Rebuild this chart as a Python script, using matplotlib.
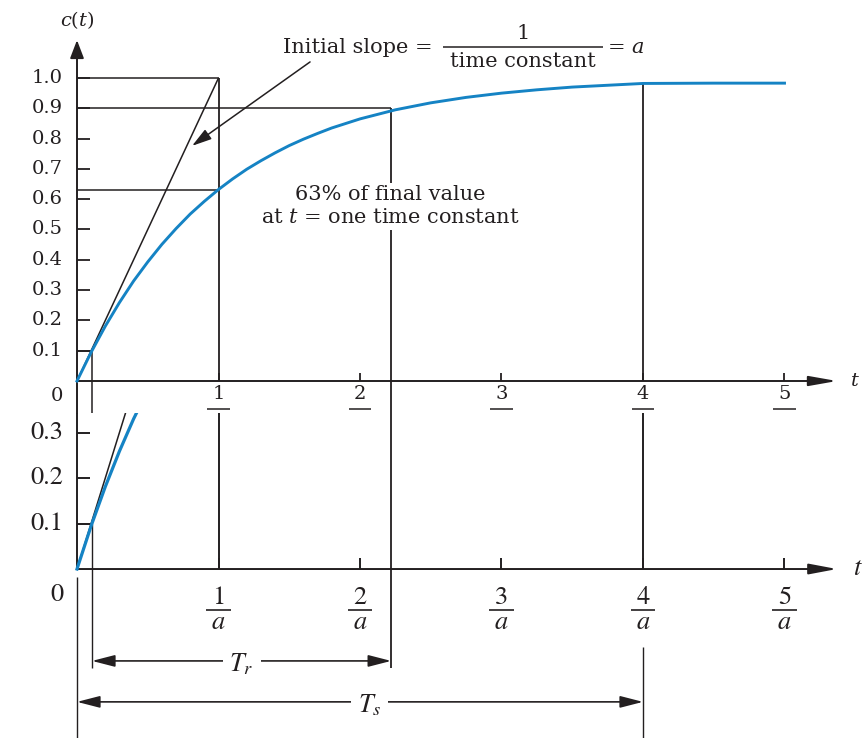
import matplotlib.pyplot as plt

# step response c(t) = 1 - exp(-a t), read at a = 1
t_vals = [0, 0.1, 0.2, 0.3, 0.4, 0.5, 0.6, 0.7, 0.8, 0.9, 1.0, 1.1, 1.2, 1.3, 1.4,
          1.5, 1.6, 1.7, 1.8, 1.9, 2.0, 2.25, 2.5, 2.75, 3.0, 3.25, 3.5, 3.75,
          4.0, 4.5, 5.0]
c_vals = [0, 0.095, 0.181, 0.259, 0.330, 0.393, 0.451, 0.503, 0.551, 0.593, 0.632,
          0.667, 0.699, 0.727, 0.753, 0.777, 0.798, 0.817, 0.835, 0.850, 0.865,
          0.895, 0.918, 0.936, 0.950, 0.961, 0.970, 0.976, 0.982, 0.983, 0.983]

slope_t = [0, 1]
slope_c = [0, 1]

t_10 = 0.106     # 10% point
t_90 = 2.22      # 90% point
t_tc = 1.0       # one time constant
c_tc = 0.63
t_s = 4.0        # settling time
c_s = 0.982

x_ticks = [1, 2, 3, 4, 5]
y_ticks_top = [0.1, 0.2, 0.3, 0.4, 0.5, 0.6, 0.7, 0.8, 0.9, 1.0]
y_ticks_bot = [0.1, 0.2, 0.3]

INK = '#231f20'
BLUE = '#1583c4'

fig = plt.figure(figsize=(8.66, 7.38), dpi=100)
ax_top = fig.add_axes([0, 325 / 738, 1, 413 / 738])
ax_bot = fig.add_axes([0, 0, 1, 325 / 738])
for ax in (ax_top, ax_bot):
    ax.set_axis_off()
    ax.set_xlim(-0.5442, 5.576)
ax_top.set_ylim(-0.1056, 1.2574)
ax_bot.set_ylim(-0.3714, 0.3429)

TOPF = dict(family='DejaVu Serif', color=INK, math_fontfamily='dejavuserif')
BOTF = dict(family='STIXGeneral', color=INK, math_fontfamily='stix')


def seg(ax, xs, ys, lw=1.1, **kw):
    ax.plot(xs, ys, color=INK, lw=lw, solid_capstyle='butt', **kw)


def arrow(ax, start, end, style, lw=1.3, ms=10):
    ax.annotate('', xy=end, xytext=start,
                arrowprops=dict(arrowstyle=style, color=INK, lw=lw,
                                shrinkA=0, shrinkB=0, mutation_scale=ms))


# ---------------- upper panel ----------------
ax = ax_top
arrow(ax, (0, -0.1056), (0, 1.125), '-|>,head_length=1.1,head_width=0.42', lw=1.4)
arrow(ax, (0, 0), (5.371, 0), '-|>,head_length=1.7,head_width=0.3', lw=1.4)
ax.text(5.463, 0.0, '$t$', fontsize=14, ha='left', va='center', **TOPF)
ax.text(0, 1.191, '$c(t)$', fontsize=14, ha='center', va='center', **TOPF)

ax.plot(t_vals, c_vals, color=BLUE, lw=2.1, zorder=4)
seg(ax, slope_t, slope_c)

seg(ax, [0, t_tc], [1.0, 1.0])
seg(ax, [t_tc, t_tc], [0, 1.0], lw=1.3)
seg(ax, [0, t_90], [0.9, 0.9])
seg(ax, [t_90, t_90], [-0.1056, 0.9], lw=1.3)
seg(ax, [0, t_tc], [c_tc, c_tc])
seg(ax, [0, t_10], [0.1, 0.1])
seg(ax, [t_10, t_10], [-0.1056, 0.1])
seg(ax, [t_s, t_s], [0, c_s], lw=1.3)

for y in y_ticks_top:
    seg(ax, [0, 0.092], [y, y], lw=1.3)
    ax.text(-0.099, y, f'{y:.1f}', fontsize=14, ha='right', va='center', **TOPF)
ax.text(-0.141, -0.05, '0', fontsize=14, ha='center', va='center', **TOPF)
for x in x_ticks:
    seg(ax, [x, x], [0, 0.026], lw=1.3)
    ax.text(x, -0.044, str(x), fontsize=14, ha='center', va='center', **TOPF)
    seg(ax, [x - 0.08, x + 0.08], [-0.092, -0.092])

# initial-slope callout
ax.text(2.516, 1.102, 'Initial slope =', fontsize=15, ha='right', va='center', **TOPF)
seg(ax, [2.587, 3.717], [1.102, 1.102])
ax.text(3.152, 1.148, '1', fontsize=15, ha='center', va='center', **TOPF)
ax.text(3.152, 1.056, 'time constant', fontsize=15, ha='center', va='center', **TOPF)
ax.text(3.745, 1.102, '= $a$', fontsize=15, ha='left', va='center', **TOPF)
arrow(ax, (1.647, 1.053), (0.813, 0.776), '-|>,head_length=1.2,head_width=0.35', lw=1.1)

box = dict(facecolor='white', edgecolor='none', pad=1.5)
ax.text(2.212, 0.614, '63% of final value', fontsize=15, ha='center', va='center',
        bbox=box, zorder=5, **TOPF)
ax.text(2.212, 0.538, 'at $t$ = one time constant', fontsize=15, ha='center',
        va='center', bbox=box, zorder=5, **TOPF)

# ---------------- lower panel (enlarged) ----------------
ax = ax_bot
seg(ax, [0, 0], [0, 0.3429], lw=1.4)
seg(ax, [0, 0], [-0.3714, -0.018], lw=1.0)
arrow(ax, (0, 0), (5.371, 0), '-|>,head_length=1.7,head_width=0.32', lw=1.4)
ax.text(5.484, 0.0, '$t$', fontsize=19, ha='left', va='center', **BOTF)

ax.plot(t_vals, c_vals, color=BLUE, lw=2.3, zorder=4)
seg(ax, slope_t, slope_c)

seg(ax, [0, t_10], [0.1, 0.1])
seg(ax, [t_10, t_10], [-0.218, 0.1], lw=1.0)
seg(ax, [t_tc, t_tc], [0, 0.3429], lw=1.4)
seg(ax, [t_90, t_90], [-0.218, 0.3429], lw=1.3)
seg(ax, [t_s, t_s], [0, 0.3429], lw=1.4)
seg(ax, [t_s, t_s], [-0.3714, -0.171], lw=1.0)

for y in y_ticks_bot:
    seg(ax, [0, 0.092], [y, y], lw=1.4)
    ax.text(-0.099, y, f'{y:.1f}', fontsize=19, ha='right', va='center', **BOTF)
ax.text(-0.141, -0.057, '0', fontsize=19, ha='center', va='center', **BOTF)
for x in x_ticks:
    seg(ax, [x, x], [0, 0.024], lw=1.4)
    ax.text(x, -0.064, str(x), fontsize=19, ha='center', va='center', **BOTF)
    seg(ax, [x - 0.085, x + 0.085], [-0.090, -0.090], lw=1.2)
    ax.text(x, -0.119, '$a$', fontsize=19, ha='center', va='center', **BOTF)

# rise time and settling time spans
dim = '<|-|>,head_length=1.4,head_width=0.36'
c_tr = -0.202
arrow(ax, (t_10, c_tr), (t_90, c_tr), dim, lw=1.2)
ax.text((t_10 + t_90) / 2, c_tr - 0.008, '$T_r$', fontsize=19, ha='center',
        va='center', bbox=dict(facecolor='white', edgecolor='none', pad=5), **BOTF)
c_ts = -0.292
arrow(ax, (0, c_ts), (t_s, c_ts), dim, lw=1.2)
ax.text(t_s / 2 + 0.07, c_ts - 0.008, '$T_s$', fontsize=19, ha='center',
        va='center', bbox=dict(facecolor='white', edgecolor='none', pad=5), **BOTF)

fig.savefig('out.png', dpi=100, facecolor='white')
